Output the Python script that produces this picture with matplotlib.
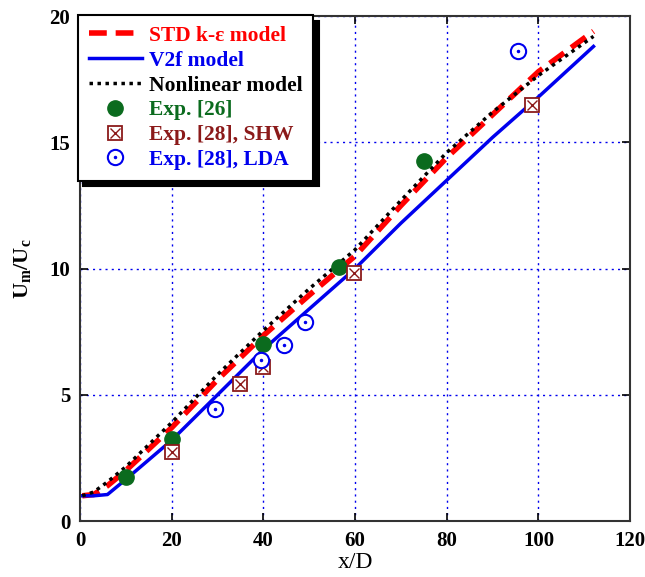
import numpy as np
import matplotlib.pyplot as plt
from matplotlib.legend_handler import HandlerTuple

# model curves
x_mod = [0.5, 3, 6, 10, 20, 30, 40, 50, 60, 70, 80, 90, 100, 112]
std_ke = [1.0, 1.05, 1.4, 2.0, 3.7, 5.6, 7.35, 8.95, 10.5, 12.5, 14.4, 16.1, 17.8, 19.4]
v2f = [1.0, 1.0, 1.05, 1.65, 3.2, 5.0, 6.8, 8.4, 10.0, 11.8, 13.5, 15.2, 16.8, 18.8]
nonlin = [1.0, 1.15, 1.55, 2.15, 3.9, 5.8, 7.55, 9.2, 10.75, 12.7, 14.6, 16.2, 17.65, 19.2]

# experiments
x_e26 = [10, 20, 40, 56.5, 75]
y_e26 = [1.75, 3.25, 7.0, 10.08, 14.25]
x_shw = [20, 35, 40, 59.7, 98.5]
y_shw = [2.74, 5.43, 6.1, 9.84, 16.5]
x_lda = [29.5, 39.5, 44.5, 49, 95.5]
y_lda = [4.44, 6.39, 6.98, 7.9, 18.6]

plt.rcParams['font.family'] = ['Liberation Serif', 'DejaVu Serif']
plt.rcParams['mathtext.fontset'] = 'custom'
plt.rcParams['mathtext.rm'] = 'Liberation Serif:bold'
plt.rcParams['mathtext.it'] = 'Liberation Serif:bold'

fig = plt.figure(figsize=(6.45, 5.77), dpi=100)
ax = fig.add_axes([0.124, 0.097, 0.853, 0.875])

l1, = ax.plot(x_mod, std_ke, color='red', lw=4, dashes=(3.2, 1.6))
l2, = ax.plot(x_mod, v2f, color='#0000ee', lw=2.5)
l3, = ax.plot(x_mod, nonlin, color='black', lw=2.5, ls=(0, (1, 1.3)))

p1, = ax.plot(x_e26, y_e26, 'o', color='#0b6b1e', ms=11, ls='none')
p2a, = ax.plot(x_shw, y_shw, 's', mfc='white', mec='#8b1a1a', ms=10, mew=1.3, ls='none')
p2b, = ax.plot(x_shw, y_shw, 'x', color='#8b1a1a', ms=7, mew=1.0, ls='none')
p3a, = ax.plot(x_lda, y_lda, 'o', mfc='white', mec='#0000ee', ms=11, mew=1.5, ls='none')
p3b, = ax.plot(x_lda, y_lda, '.', color='#0000ee', ms=3, ls='none')

ax.set_xlim(0, 120)
ax.set_ylim(0, 20)
ax.set_xticks([0, 20, 40, 60, 80, 100, 120])
ax.set_yticks([0, 5, 10, 15, 20])
ax.grid(True, color='#0000ee', ls=(0, (1.5, 3)), lw=1.0)
ax.tick_params(direction='in', top=True, right=True, length=6, width=1.2, labelsize=15, pad=7)
for lab in ax.get_xticklabels() + ax.get_yticklabels():
    lab.set_fontweight('bold')
for s in ax.spines.values():
    s.set_linewidth(1.5)
    s.set_color('#333333')

ax.set_xlabel('x/D', fontsize=17, labelpad=1)
ax.set_ylabel(r'U$_\mathrm{m}$/U$_\mathrm{c}$', fontsize=16, fontweight='bold', labelpad=12)

leg = ax.legend([l1, l2, l3, p1, (p2a, p2b), (p3a, p3b)],
                ['STD k-ε model', 'V2f model', 'Nonlinear model',
                 'Exp. [26]', 'Exp. [28], SHW', 'Exp. [28], LDA'],
                handler_map={tuple: HandlerTuple(ndivide=1)}, numpoints=1,
                loc='upper left', bbox_to_anchor=(-0.004, 1.002), borderaxespad=0,
                fancybox=False, shadow={'color': 'black', 'alpha': 1, 'ox': 4, 'oy': -4},
                framealpha=1, edgecolor='black', handlelength=2.5, handletextpad=0.3,
                labelspacing=0.22, borderpad=0.5, prop={'weight': 'bold', 'size': 15.5})
leg.get_frame().set_linewidth(1.5)
for t, c in zip(leg.get_texts(), ['red', '#0000ee', 'black', '#0b6b1e', '#8b1a1a', '#0000ee']):
    t.set_color(c)

fig.savefig('out.png', dpi=100, facecolor='white')
